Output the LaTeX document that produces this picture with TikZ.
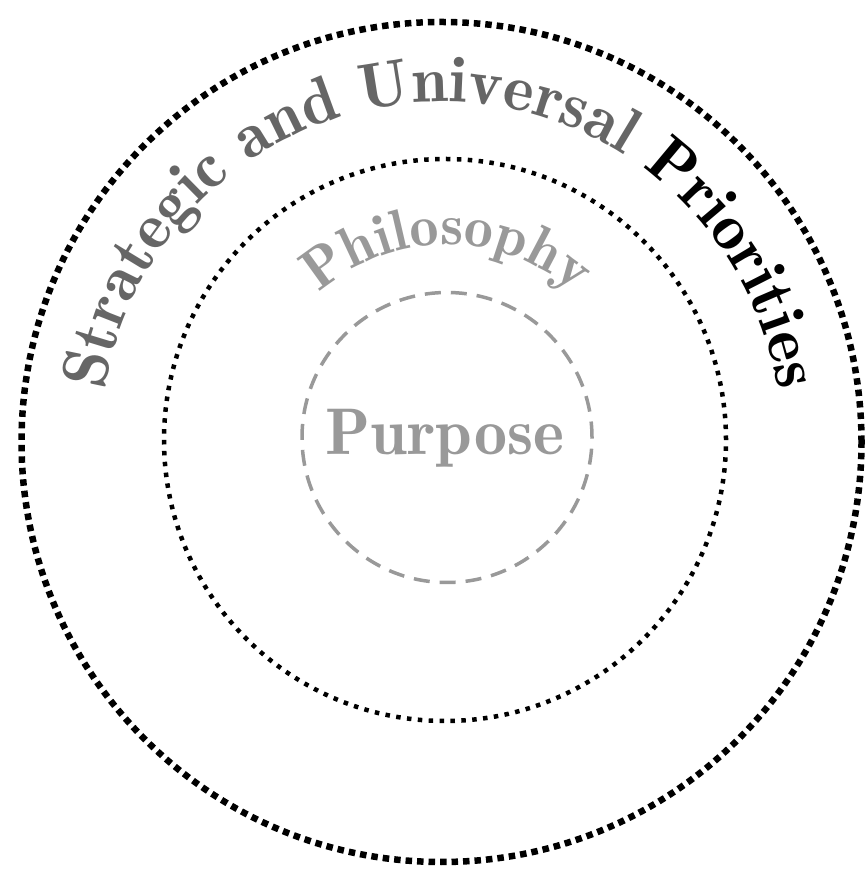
\documentclass[tikz,border=0pt]{standalone}
\usetikzlibrary{decorations.text}
\definecolor{pgray}{HTML}{999999}
\definecolor{sgray}{HTML}{666666}
\newcommand{\outerfont}{\fontsize{65}{68}\fontseries{b}\selectfont}
\begin{document}
\begin{tikzpicture}[x=1pt,y=1pt,
  outerring/.style={line width=6.5pt, dash pattern=on 6.5pt off 5pt},
  midring/.style={line width=4.5pt, dash pattern=on 4.5pt off 6.4pt},
  innerring/.style={draw=pgray, line width=3.5pt, dash pattern=on 16pt off 10pt},
  bigtext/.style={font=\fontsize{66}{70}\fontseries{b}\selectfont, text=pgray}
]
\useasboundingbox (0,0) rectangle (866,869);
\coordinate (co) at (441.5,427);
\coordinate (cm) at (445,429);
\coordinate (ci) at (447,431.5);
\draw[outerring] (co) circle[radius=420pt];
\draw[midring] (cm) circle[radius=281pt];
\draw[innerring] (ci) circle[radius=145pt];
\node[bigtext, anchor=base] (purpose) at (445,414) {Purpose};
\path[decorate, decoration={text along path, text align=center,
  text={|\fontsize{58}{60}\fontseries{b}\selectfont\color{pgray}|Philosophy}}]
  (ci) ++(180:193pt) arc[start angle=180, end angle=0, radius=193pt];
\path[decorate, decoration={text along path, text align=center,
  text={|\outerfont\color{sgray}|Strategic and Universal |\outerfont\color{black}|Priorities}}]
  (co) ++(180:340pt) arc[start angle=180, end angle=0, radius=340pt];
\end{tikzpicture}
\end{document}
